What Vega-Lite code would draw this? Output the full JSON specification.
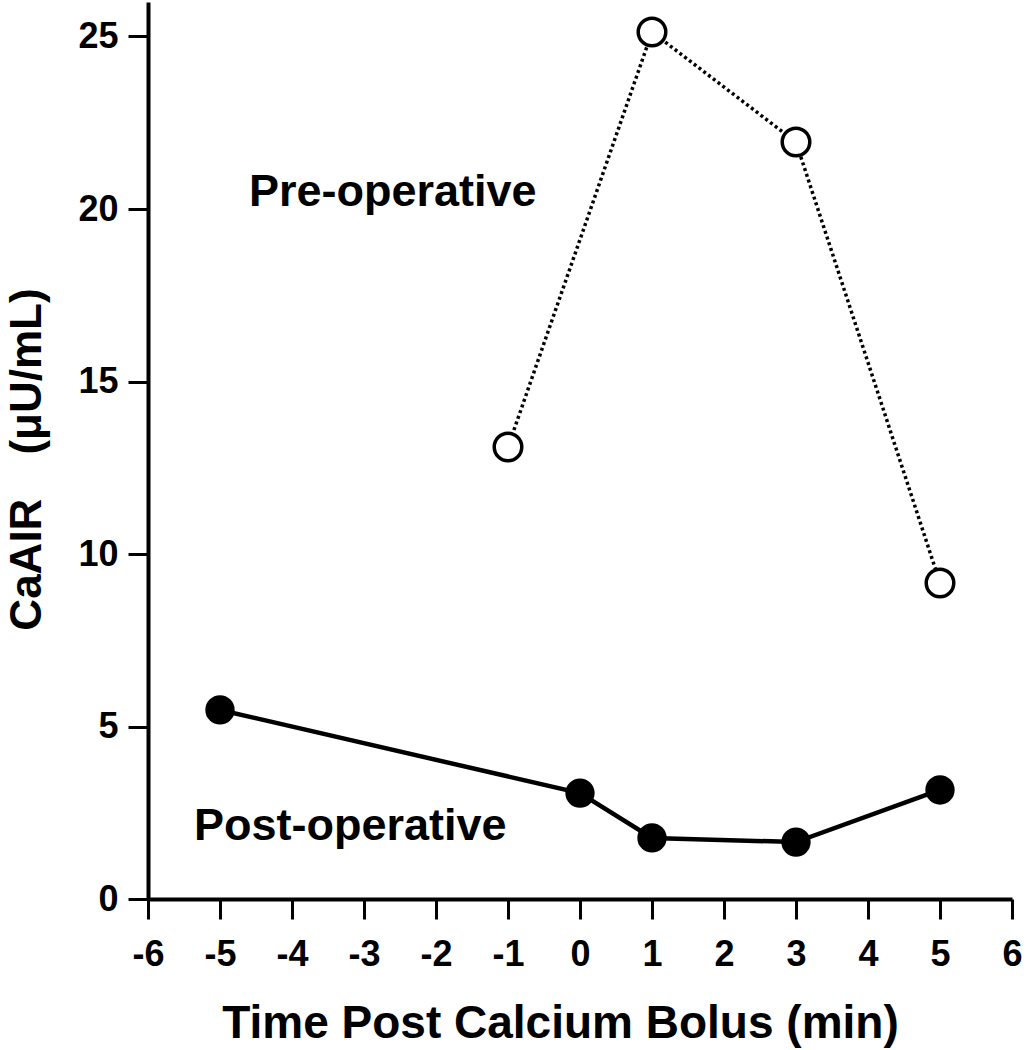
{
  "$schema": "https://vega.github.io/schema/vega-lite/v6.json",
  "width": 864,
  "height": 897,
  "autosize": {"type": "none"},
  "padding": {"left": 148, "top": 2, "right": 18, "bottom": 151},
  "background": "white",
  "config": {"view": {"stroke": null}, "font": "Liberation Sans"},
  "datasets": {
    "pre": [
      {"time": -1, "value": 13.1},
      {"time": 1, "value": 25.13},
      {"time": 3, "value": 21.94},
      {"time": 5, "value": 9.16}
    ],
    "post": [
      {"time": -5, "value": 5.48},
      {"time": 0, "value": 3.07},
      {"time": 1, "value": 1.77},
      {"time": 3, "value": 1.65},
      {"time": 5, "value": 3.16}
    ],
    "labels": [
      {"time": -2.6, "value": 20.1, "label": "Pre-operative"},
      {"time": -3.19, "value": 1.71, "label": "Post-operative"}
    ]
  },
  "encoding": {
    "x": {
      "field": "time",
      "type": "quantitative",
      "scale": {"domain": [-6, 6], "nice": false, "zero": false},
      "axis": {
        "title": "Time Post Calcium Bolus (min)",
        "values": [-6, -5, -4, -3, -2, -1, 0, 1, 2, 3, 4, 5, 6],
        "labelExpr": "'' + datum.value",
        "grid": false,
        "domainColor": "black",
        "domainWidth": 4,
        "tickColor": "black",
        "tickWidth": 3,
        "tickSize": 20,
        "labelFont": "Liberation Sans",
        "labelFontSize": 36,
        "labelFontWeight": "bold",
        "labelColor": "black",
        "labelPadding": 18,
        "labelFlush": false,
        "labelOverlap": false,
        "titleFont": "Liberation Sans",
        "titleFontSize": 46,
        "titleFontWeight": "bold",
        "titleColor": "black",
        "titleX": 412,
        "titleY": 138,
        "titleAlign": "center",
        "titleBaseline": "alphabetic"
      }
    },
    "y": {
      "field": "value",
      "type": "quantitative",
      "scale": {"domain": [0, 26], "nice": false},
      "axis": {
        "title": "CaAIR\u2003(μU/mL)",
        "values": [0, 5, 10, 15, 20, 25],
        "grid": false,
        "domainColor": "black",
        "domainWidth": 4,
        "tickColor": "black",
        "tickWidth": 3,
        "tickSize": 20,
        "labelFont": "Liberation Sans",
        "labelFontSize": 36,
        "labelFontWeight": "bold",
        "labelColor": "black",
        "labelPadding": 10,
        "labelFlush": false,
        "labelOverlap": false,
        "titleFont": "Liberation Sans",
        "titleFontSize": 44,
        "titleFontWeight": "bold",
        "titleColor": "black",
        "titleAngle": 270,
        "titleX": -108,
        "titleY": 457,
        "titleAlign": "center",
        "titleBaseline": "alphabetic"
      }
    }
  },
  "layer": [
    {
      "data": {"name": "pre"},
      "mark": {"type": "line", "color": "black", "strokeWidth": 3.5, "strokeDash": [3, 3]}
    },
    {
      "data": {"name": "post"},
      "mark": {"type": "line", "color": "black", "strokeWidth": 4.5}
    },
    {
      "data": {"name": "pre"},
      "mark": {"type": "point", "shape": "circle", "filled": false, "fill": "white", "fillOpacity": 1, "stroke": "black", "strokeWidth": 3.5, "size": 760, "opacity": 1}
    },
    {
      "data": {"name": "post"},
      "mark": {"type": "point", "shape": "circle", "filled": true, "color": "black", "size": 860, "opacity": 1}
    },
    {
      "data": {"name": "labels"},
      "mark": {"type": "text", "font": "Liberation Sans", "fontSize": 45, "fontWeight": "bold", "color": "black", "align": "center", "baseline": "alphabetic"},
      "encoding": {"text": {"field": "label", "type": "nominal"}}
    }
  ]
}
